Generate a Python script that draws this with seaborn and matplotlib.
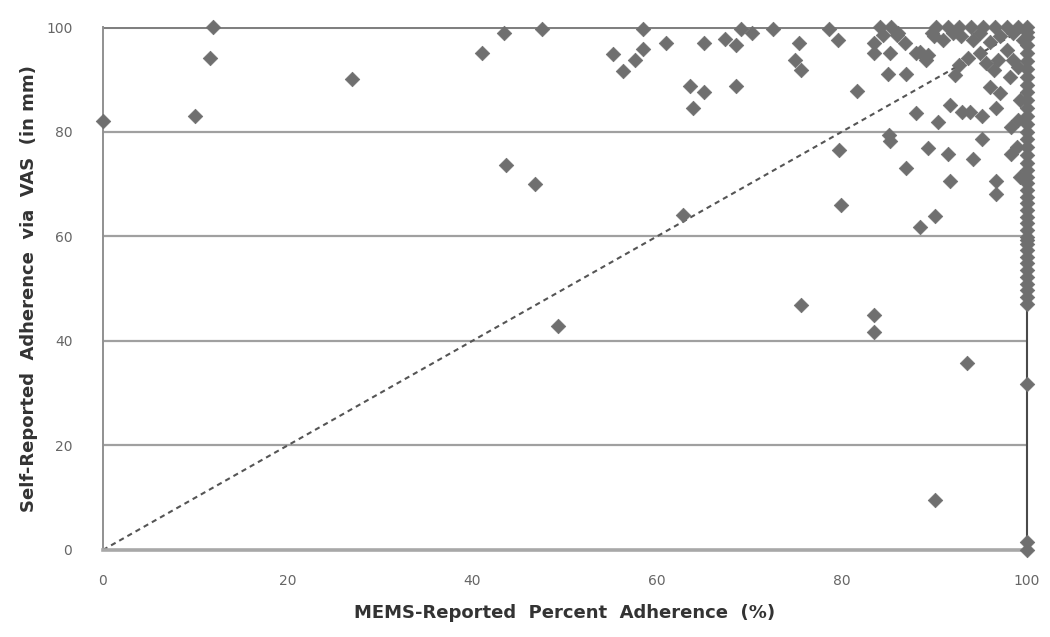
import numpy as np
import pandas as pd
import seaborn as sns
import matplotlib.pyplot as plt

# MEMS adherence (x) vs self-reported VAS (y)
mems = [
    0, 10, 11.6, 11.9, 27, 41.0, 43.4, 47.5, 43.6, 46.8, 49.2,
    55.2, 56.3, 57.6, 58.4, 58.4, 60.9, 63.5, 65.0, 63.9, 65.0, 62.8,
    67.3, 68.5, 68.5, 69.1, 70.2, 72.5, 75.3, 74.9, 75.5, 75.5,
    78.6, 79.6, 79.7, 79.9, 81.6, 83.4, 83.4, 84.1, 85.3, 83.4, 83.4,
    85.2, 86.1, 86.8, 85.0, 86.9, 85.1, 85.2, 86.9, 88.0, 88.4, 90.0,
    88.4, 89.1, 89.7, 90.2, 89.3, 90.4, 90.0, 91.5, 91.7, 91.7, 93.0,
    93.8, 93.5, 94.2, 95.1, 95.1, 96.7, 96.7, 96.7, 98.3, 98.3, 96.0,
    97.1, 98.2, 92.2, 92.7, 93.6, 94.9, 96.4, 96.9, 97.8, 95.6, 98.5,
    99.0, 88.0,
    91.5, 92.7, 94.0, 95.2, 96.5, 97.8, 99.0,
    84.4, 85.9, 89.3, 89.9, 90.9, 92.0, 92.9, 94.2, 94.9, 96.0, 97.1,
    98.5, 99.6,
    99.2, 99.0, 98.9, 99.2,
    100, 100, 100, 100, 100, 100, 100, 100, 100, 100, 100, 100, 100,
    100, 100, 100, 100, 100, 100, 100, 100, 100, 100, 100, 100, 100,
    100, 100, 100, 100, 100, 100, 100, 100, 100, 100, 100, 100, 100,
    100, 100, 100, 100, 100,
]
vas = [
    82, 83, 94, 100, 90, 95, 98.8, 99.7, 73.6, 70.0, 42.8,
    94.8, 91.6, 93.7, 95.8, 99.7, 96.9, 88.7, 87.6, 84.6, 96.9, 64,
    97.8, 96.6, 88.7, 99.7, 98.9, 99.7, 96.9, 93.7, 91.7, 46.8,
    99.7, 97.5, 76.5, 66, 87.8, 45, 41.7, 100, 100, 96.9, 95,
    95, 98.8, 96.9, 91.0, 91.0, 79.3, 78.2, 73, 83.6, 61.8, 63.9,
    95.3, 93.7, 98.8, 100, 76.8, 81.8, 9.6, 75.7, 70.6, 85.0, 83.8,
    83.8, 35.8, 74.7, 78.6, 82.9, 84.6, 70.6, 68.1, 80.9, 75.8, 88.6,
    87.3, 90.5, 90.8, 92.7, 94.0, 95.0, 91.8, 93.7, 95.6, 93.1, 93.7,
    92.4, 95.0,
    100, 100, 100, 100, 100, 100, 100,
    98.5, 98.5, 94.6, 98.2, 97.5, 98.8, 98.2, 97.5, 98.8, 97.2, 98.2,
    98.8, 97.5,
    86, 82.2, 77.1, 71.4,
    100, 99, 98, 96.5, 95, 93.5, 92, 90.5, 89, 87.5, 86, 84.5, 83,
    81.5, 80, 78.5, 77, 75.5, 74, 72.7, 71.4, 70.1, 68.8, 67.5, 66.3, 65,
    63.7, 62.5, 61.2, 59.9, 59.3, 58.6, 57.4, 56.1, 54.8, 53.5, 52.2,
    50.9, 49.7, 48.4, 47.1, 31.7, 1.6, 0,
]

# line of perfect agreement
ref_x = [0, 100]
ref_y = [0, 100]

tick_vals = [0, 20, 40, 60, 80, 100]

df = pd.DataFrame({"mems": mems, "vas": vas})
ref = pd.DataFrame({"x": ref_x, "y": ref_y})

sns.set_style("white")
plt.rcParams['font.family'] = ['DejaVu Sans']

fig = plt.figure(figsize=(10.5, 6.37), dpi=100)
ax = fig.add_axes([0.098, 0.1366, 0.88, 0.821])

for v in tick_vals[1:-1]:
    ax.axhline(v, color="#a0a0a0", lw=1.6, zorder=0)
ax.axhline(100, color="#808080", lw=2.2, zorder=0)

sns.lineplot(data=ref, x="x", y="y", ax=ax, color="#555555", lw=1.5,
             dashes=False, linestyle=(0, (2.5, 2)), zorder=2)

sns.scatterplot(data=df, x="mems", y="vas", ax=ax, marker="D", s=55,
                color="#6f6f6f", edgecolor="#6f6f6f", linewidth=0.5,
                clip_on=False, zorder=3)

ax.set_xlim(0, 100)
ax.set_ylim(0, 100)
ax.set_xticks(tick_vals)
ax.set_yticks(tick_vals)
ax.tick_params(axis="both", length=0, labelsize=10, labelcolor="#666666")
ax.tick_params(axis="y", pad=22)
ax.tick_params(axis="x", pad=17)

ax.spines["left"].set_color("#909090")
ax.spines["left"].set_linewidth(1.4)
ax.spines["top"].set_visible(False)
ax.spines["bottom"].set_color("#a8a8a8")
ax.spines["bottom"].set_linewidth(2.6)
ax.spines["right"].set_color("#4a4a4a")
ax.spines["right"].set_linewidth(1.5)

ax.set_xlabel("MEMS-Reported  Percent  Adherence  (%)",
              fontsize=13, fontweight="bold", color="#333333", labelpad=12)
ax.set_ylabel("Self-Reported  Adherence  via  VAS  (in mm)",
              fontsize=13, fontweight="bold", color="#333333", labelpad=6)

fig.savefig("out.png", dpi=100)
